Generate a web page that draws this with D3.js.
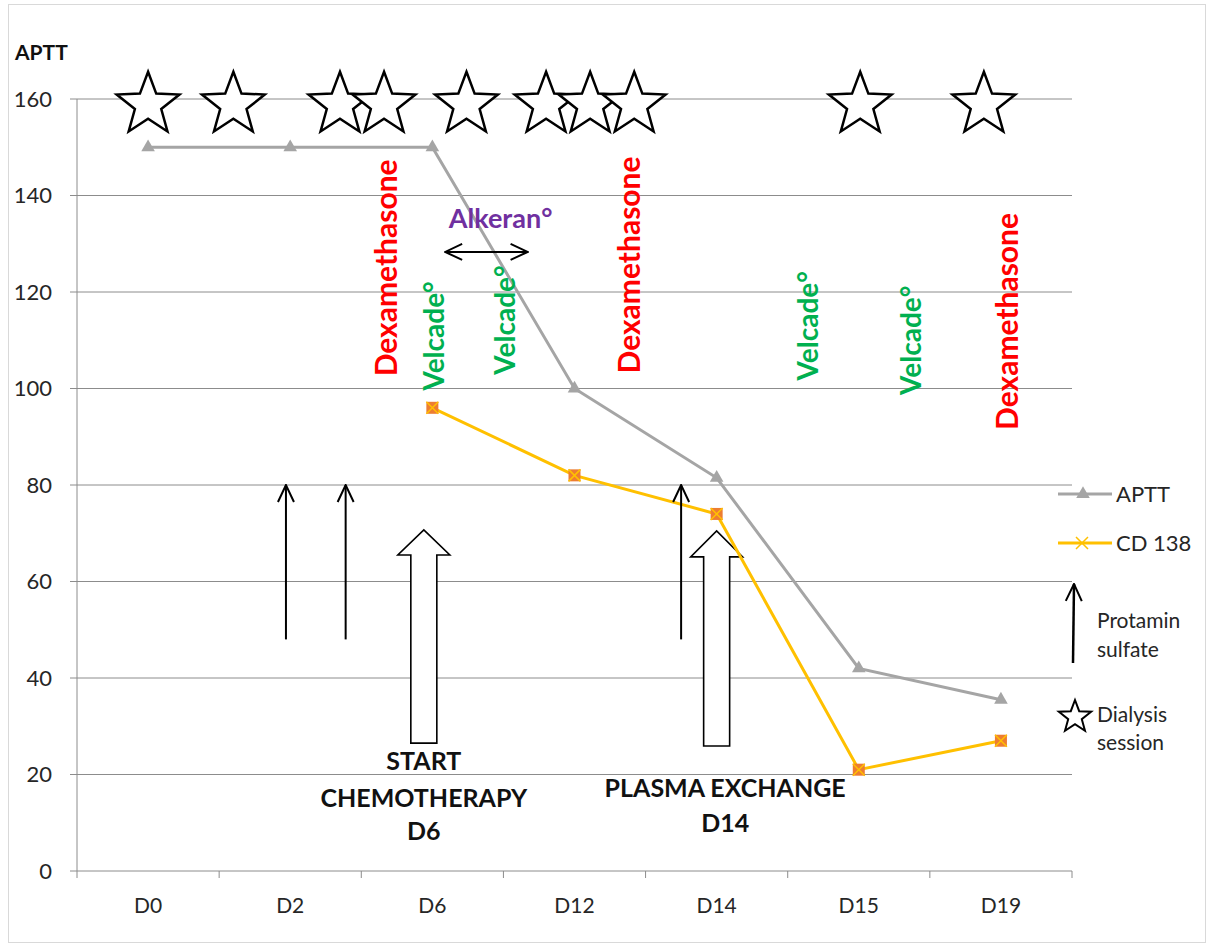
<!DOCTYPE html>
<html>
<head>
<meta charset="utf-8">
<script src="https://cdn.jsdelivr.net/npm/d3@7"></script>
<style>
  body { margin: 0; background: #fff; }
  text { font-family: Lato, "Open Sans", sans-serif; }
</style>
</head>
<body>
<div id="chart"></div>
<script>
// data
const days = ["D0", "D2", "D6", "D12", "D14", "D15", "D19"];
const aptt = [150, 150, 150, 100, 81.5, 42, 35.5];
const cd138 = [null, null, 96, 82, 74, 21, 27];
const yTicks = [0, 20, 40, 60, 80, 100, 120, 140, 160];

// dialysis sessions, in day-slot units (0 = D0)
const dialysis = [0, 0.6, 1.35, 1.66, 2.24, 2.8, 3.11, 3.42, 5.01, 5.88];
// drug labels: slot position of baseline, value at text centre
const dexa = [[1.75, 125], [3.46, 125.6], [6.12, 113.9]];
const velcade = [[2.08, 110.9], [2.58, 114.2], [4.71, 113], [5.44, 110]];
// protamin sulfate arrows: slot, from, to
const protamin = [[0.97, 48, 80], [1.39, 48, 80], [3.75, 48, 80]];
// big arrows: slot, bottom, head base, tip
const blocks = [[1.94, 26.5, 65.5, 70.7], [4.0, 25.9, 65.1, 70.5]];

const W = 1211, H = 947;
const margin = { top: 99, right: 139, bottom: 76, left: 77 };
const width = W - margin.left - margin.right,
  height = H - margin.top - margin.bottom;

const svg = d3.select("#chart").append("svg")
  .attr("width", W).attr("height", H);

svg.append("rect")
  .attr("x", 8.5).attr("y", 4.5).attr("width", W - 14).attr("height", H - 9)
  .attr("fill", "none").attr("stroke", "#d9d9d9");

const g = svg.append("g").attr("transform", `translate(${margin.left},${margin.top})`);

const x = d3.scaleBand().domain(days).range([0, width]);
const slot = d3.scaleLinear().domain([0, 1]).range([x.bandwidth() / 2, x.bandwidth() * 1.5]);
const y = d3.scaleLinear().domain([0, 160]).range([height, 0]);

// grid
g.selectAll(".grid").data(yTicks).enter().append("line")
  .attr("x1", -7).attr("x2", width)
  .attr("y1", d => y(d)).attr("y2", d => y(d))
  .attr("stroke", "#8c8c8c").attr("stroke-width", 1);

g.append("line").attr("x1", 0).attr("x2", 0).attr("y1", 0).attr("y2", height)
  .attr("stroke", "#8c8c8c");

// x tick marks
g.selectAll(".xt").data(d3.range(days.length + 1)).enter().append("line")
  .attr("x1", i => i * x.bandwidth()).attr("x2", i => i * x.bandwidth())
  .attr("y1", height).attr("y2", height + 7)
  .attr("stroke", "#8c8c8c");

g.selectAll(".ylab").data(yTicks).enter().append("text")
  .attr("x", -25).attr("y", d => y(d)).attr("dy", "0.35em")
  .attr("text-anchor", "end").attr("font-size", 22).attr("fill", "#262626")
  .text(d => d);

g.selectAll(".xlab").data(days).enter().append("text")
  .attr("x", d => x(d) + x.bandwidth() / 2).attr("y", height + 42)
  .attr("text-anchor", "middle").attr("font-size", 21).attr("fill", "#262626")
  .text(d => d);

svg.append("text").attr("x", 15).attr("y", 60)
  .attr("font-size", 21).attr("font-weight", "bold").attr("fill", "#111")
  .text("APTT");

// star path
function starPath(r) {
  const pts = [];
  for (let i = 0; i < 10; i++) {
    const rr = i % 2 === 0 ? r : r * 0.42;
    const a = -Math.PI / 2 + i * Math.PI / 5;
    pts.push([rr * Math.cos(a), rr * Math.sin(a)]);
  }
  return "M" + pts.map(p => p.join(",")).join("L") + "Z";
}

const defs = svg.append("defs");
defs.append("marker").attr("id", "head2")
  .attr("viewBox", "0 0 20 20").attr("refX", 19).attr("refY", 10)
  .attr("markerWidth", 20).attr("markerHeight", 20).attr("orient", "auto-start-reverse")
  .attr("markerUnits", "userSpaceOnUse")
  .append("path").attr("d", "M2,2L19,10L2,18").attr("fill", "none").attr("stroke", "#000").attr("stroke-width", 2);

// lines
const line = d3.line()
  .defined(d => d[1] != null)
  .x(d => x(d[0]) + x.bandwidth() / 2)
  .y(d => y(d[1]));

const apttData = days.map((d, i) => [d, aptt[i]]);
const cdData = days.map((d, i) => [d, cd138[i]]);

// block arrows (drawn under lines)
blocks.forEach(b => {
  const cx = slot(b[0]), y0 = y(b[1]), y1 = y(b[2]), yt = y(b[3]);
  const sw = 13, hw = 26;
  const pts = [[cx - sw, y0], [cx - sw, y1], [cx - hw, y1], [cx, yt], [cx + hw, y1], [cx + sw, y1], [cx + sw, y0]];
  g.append("path").attr("d", "M" + pts.map(p => p.join(",")).join("L") + "Z")
    .attr("fill", "#fff").attr("stroke", "#000").attr("stroke-width", 1.6);
});

g.append("path").datum(apttData).attr("d", line)
  .attr("fill", "none").attr("stroke", "#A5A5A5").attr("stroke-width", 3);
g.append("path").datum(cdData).attr("d", line)
  .attr("fill", "none").attr("stroke", "#FFC000").attr("stroke-width", 3);

const tri = d3.symbol().type(d3.symbolTriangle).size(80);
g.selectAll(".tri").data(apttData).enter().append("path")
  .attr("transform", d => `translate(${x(d[0]) + x.bandwidth() / 2},${y(d[1])})`)
  .attr("d", tri).attr("fill", "#A5A5A5");

g.selectAll(".sq").data(cdData.filter(d => d[1] != null)).enter().append("g")
  .attr("transform", d => `translate(${x(d[0]) + x.bandwidth() / 2},${y(d[1])})`)
  .each(function () {
    const s = d3.select(this);
    s.append("rect").attr("x", -6).attr("y", -6).attr("width", 12).attr("height", 12).attr("fill", "#ED7D31");
    s.append("path").attr("d", "M-6,-6L6,6M-6,6L6,-6").attr("stroke", "#FFC000").attr("stroke-width", 1.5);
  });

// stars
g.selectAll(".star").data(dialysis).enter().append("path")
  .attr("transform", d => `translate(${slot(d)},${y(158.8)})`)
  .attr("d", starPath(33))
  .attr("fill", "#fff").attr("stroke", "#000").attr("stroke-width", 2.5);

// drug labels
g.selectAll(".dexa").data(dexa).enter().append("text")
  .attr("transform", d => `translate(${slot(d[0])},${y(d[1])}) rotate(-90)`)
  .attr("text-anchor", "middle").attr("font-size", 30).attr("font-weight", "bold")
  .attr("fill", "#FF0000").text("Dexamethasone");

g.selectAll(".velc").data(velcade).enter().append("text")
  .attr("transform", d => `translate(${slot(d[0])},${y(d[1])}) rotate(-90)`)
  .attr("text-anchor", "middle").attr("font-size", 28).attr("font-weight", "bold")
  .attr("fill", "#00B050").text("Velcade°");

g.append("text").attr("x", slot(2.48)).attr("y", y(133.3))
  .attr("text-anchor", "middle").attr("font-size", 27).attr("font-weight", "bold")
  .attr("fill", "#7030A0").text("Alkeran°");

g.append("line")
  .attr("x1", slot(2.09)).attr("x2", slot(2.67)).attr("y1", y(128.3)).attr("y2", y(128.3))
  .attr("stroke", "#000").attr("stroke-width", 2)
  .attr("marker-start", "url(#head2)").attr("marker-end", "url(#head2)");

// protamin arrows
g.selectAll(".prot").data(protamin).enter().append("line")
  .attr("x1", d => slot(d[0])).attr("x2", d => slot(d[0]))
  .attr("y1", d => y(d[1])).attr("y2", d => y(d[2]))
  .attr("stroke", "#000").attr("stroke-width", 2)
  .attr("marker-end", "url(#head2)");

// block arrow captions
const cap = [[slot(1.94), [[y(20.9), "START"], [y(13.3), "CHEMOTHERAPY"], [y(6.4), "D6"]]],
             [slot(4.06), [[y(15.3), "PLASMA EXCHANGE"], [y(8.1), "D14"]]]];
cap.forEach(c => {
  c[1].forEach(t => {
    g.append("text").attr("x", c[0]).attr("y", t[0])
      .attr("text-anchor", "middle").attr("font-size", 25).attr("font-weight", "bold")
      .attr("fill", "#111").text(t[1]);
  });
});

// legend
const lg = svg.append("g");
lg.append("line").attr("x1", 1058).attr("x2", 1112).attr("y1", 494).attr("y2", 494)
  .attr("stroke", "#A5A5A5").attr("stroke-width", 3);
lg.append("path").attr("transform", "translate(1083,494)").attr("d", tri).attr("fill", "#A5A5A5");
lg.append("text").attr("x", 1116).attr("y", 494).attr("dy", "0.35em").attr("font-size", 22).attr("fill", "#262626").text("APTT");
lg.append("line").attr("x1", 1058).attr("x2", 1112).attr("y1", 543).attr("y2", 543)
  .attr("stroke", "#FFC000").attr("stroke-width", 3);
lg.append("path").attr("d", "M1076,537L1088,549M1076,549L1088,537").attr("stroke", "#FFC000").attr("stroke-width", 1.5);
lg.append("text").attr("x", 1116).attr("y", 543).attr("dy", "0.35em").attr("font-size", 22).attr("fill", "#262626").text("CD 138");

lg.append("line").attr("x1", 1073).attr("x2", 1074).attr("y1", 663).attr("y2", 584)
  .attr("stroke", "#000").attr("stroke-width", 2.5).attr("marker-end", "url(#head2)");
lg.append("text").attr("x", 1097).attr("y", 628).attr("font-size", 21).attr("fill", "#262626").text("Protamin");
lg.append("text").attr("x", 1097).attr("y", 657).attr("font-size", 21).attr("fill", "#262626").text("sulfate");

lg.append("path").attr("transform", "translate(1075,717)").attr("d", starPath(17))
  .attr("fill", "#fff").attr("stroke", "#000").attr("stroke-width", 2);
lg.append("text").attr("x", 1097).attr("y", 722).attr("font-size", 21).attr("fill", "#262626").text("Dialysis");
lg.append("text").attr("x", 1097).attr("y", 750).attr("font-size", 21).attr("fill", "#262626").text("session");
</script>
</body>
</html>
